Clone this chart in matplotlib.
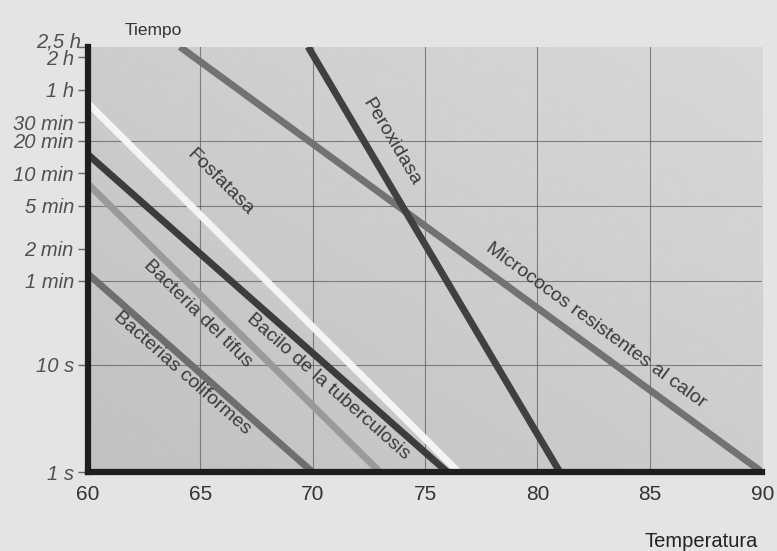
import numpy as np
import matplotlib
matplotlib.use('Agg')
import matplotlib.pyplot as plt
import matplotlib.transforms as mtransforms

plt.rcParams['font.family'] = ['Liberation Sans', 'DejaVu Sans']

# Data: each curve goes from (temp_start, time_start) to (temp_end, time_end), time in seconds
curve_names = ['Bacterias coliformes', 'Bacteria del tifus', 'Bacilo de la tuberculosis',
               'Fosfatasa', 'Micrococos resistentes al calor', 'Peroxidasa']
temp_start = [60, 60, 60, 60, 64.1, 69.8]
time_start = [70, 480, 900, 2700, 9000, 9000]
temp_end = [70.0, 73.0, 76.0, 76.5, 90.0, 81.0]
time_end = [1, 1, 1, 1, 1, 1]

# label anchors (temp, seconds)
label_temp = [64.2, 64.9, 70.7, 65.9, 82.6, 73.5]
label_time = [8.3, 30, 6.3, 500, 23, 1180]

line_colors = ['#6e6e6e', '#9a9a9a', '#3c3c3c', '#f4f4f4', '#727272', '#404040']

y_ticks = [1, 10, 60, 120, 300, 600, 1200, 1800, 3600, 7200, 9000]
y_labels = ['1 s', '10 s', '1 min', '2 min', '5 min', '10 min', '20 min', '30 min',
            '1 h', '2 h', '2,5 h']
x_ticks = [60, 65, 70, 75, 80, 85, 90]
y_grid = [10, 60, 300, 1200]

fig = plt.figure(figsize=(7.77, 5.51), dpi=100)
fig.patch.set_facecolor('#e4e4e4')
ax = fig.add_axes([0.113, 0.143, 0.868, 0.772])

ax.set_xlim(60, 90)
ax.set_yscale('log')
ax.set_ylim(1, 9000)

# soft diagonal shading like the printed page
gx, gy = np.meshgrid(np.linspace(0, 1, 200), np.linspace(0, 1, 200))
shade = 0.5 * (gx + (1 - gy))
ax.imshow(shade, extent=[0, 1, 0, 1], transform=ax.transAxes, cmap='gray',
          vmin=-8.4, vmax=2.7, aspect='auto', zorder=0, origin='upper')

# grid
for t in x_ticks[1:-1]:
    ax.axvline(t, color='#5a5a5a', lw=0.8, alpha=0.7, zorder=1)
for s in y_grid:
    ax.axhline(s, color='#5a5a5a', lw=0.8, alpha=0.7, zorder=1)

for i in range(len(curve_names)):
    ax.plot([temp_start[i], temp_end[i]], [time_start[i], time_end[i]],
            color=line_colors[i], lw=5, solid_capstyle='butt', zorder=3)

# rotated labels along lines
for i in range(len(curve_names)):
    p0 = ax.transData.transform((temp_start[i], time_start[i]))
    p1 = ax.transData.transform((temp_end[i], time_end[i]))
    ang = np.degrees(np.arctan2(p1[1] - p0[1], p1[0] - p0[0]))
    ax.text(label_temp[i], label_time[i], curve_names[i], rotation=ang,
            rotation_mode='anchor', ha='center', va='center',
            fontsize=14, color='#3a3a3a', zorder=4)

ax.set_xticks(x_ticks)
ax.set_xticklabels([str(t) for t in x_ticks], fontsize=15, color='#333333')
ax.set_yticks(y_ticks)
ax.set_yticklabels(y_labels, fontsize=14.5, style='italic', color='#505050')
ax.yaxis.set_minor_locator(matplotlib.ticker.NullLocator())
ax.tick_params(axis='x', length=0, pad=9)
ax.tick_params(axis='y', length=7, width=1, color='#666666', pad=3)

# nudge the 2,5 h label up so it clears 2 h
top_lbl = ax.get_yticklabels()[-1]
top_lbl.set_transform(top_lbl.get_transform() +
                      mtransforms.ScaledTranslation(0.07, 0.07, fig.dpi_scale_trans))

for side in ['top', 'right']:
    ax.spines[side].set_visible(False)
for side in ['left', 'bottom']:
    ax.spines[side].set_linewidth(4.5)
    ax.spines[side].set_color('#1e1e1e')
    ax.spines[side].set_zorder(5)

fig.text(0.161, 0.945, 'Tiempo', fontsize=12.5, color='#333333', va='center')
fig.text(0.976, 0.008, 'Temperatura', fontsize=14.5, color='#222222', ha='right')

fig.savefig('out.png', dpi=100, facecolor=fig.get_facecolor())
